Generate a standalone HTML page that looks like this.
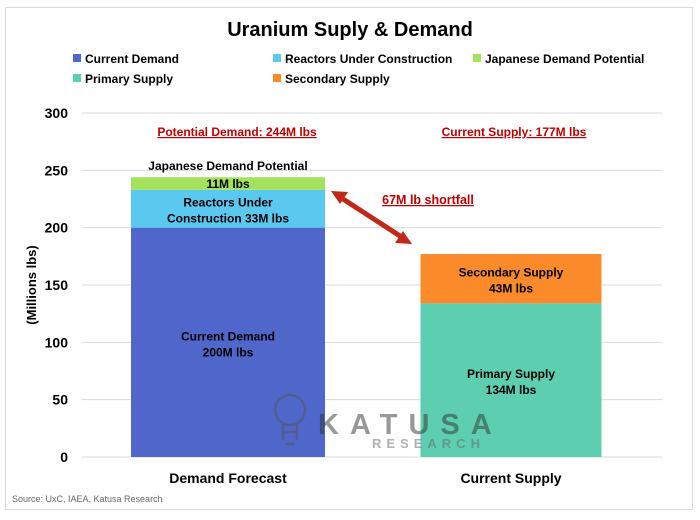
<!DOCTYPE html>
<html><head><meta charset="utf-8"><style>
body{margin:0;background:#fff;font-family:"Liberation Sans",sans-serif}
svg text{font-family:"Liberation Sans",sans-serif}
</style></head><body>
<svg width="700" height="515">
<rect x="5.5" y="7.5" width="687" height="502" fill="#fff" stroke="#d9d9d9"/>
<text x="350" y="36" text-anchor="middle" font-size="20" font-weight="bold">Uranium Suply &amp; Demand</text>
<g id="legend" font-size="12" font-weight="bold"></g>
<g id="grid"></g>
<g id="bars"></g>
<text x="36" y="285" transform="rotate(-90 36 285)" text-anchor="middle" font-size="13" font-weight="bold">(Millions lbs)</text>
<text x="237" y="136" text-anchor="middle" font-size="12" font-weight="bold" fill="#c00000" text-decoration="underline">Potential Demand: 244M lbs</text>
<text x="514" y="136" text-anchor="middle" font-size="12" font-weight="bold" fill="#c00000" text-decoration="underline">Current Supply: 177M lbs</text>
<text x="428" y="204" text-anchor="middle" font-size="12.5" font-weight="bold" fill="#c00000" text-decoration="underline">67M lb shortfall</text>
<g>
<line x1="343" y1="199" x2="400" y2="236" stroke="#c0281a" stroke-width="5"/>
<polygon points="331,191 348,192 340,204" fill="#c0281a"/>
<polygon points="412,244 395,243 403,231" fill="#c0281a"/>
</g>
<g opacity="0.5">
<circle cx="290" cy="410" r="15" fill="none" stroke="#555" stroke-width="2.5"/>
<path d="M283,424 L283,440 M297,424 L297,440 M283,432 H297 M285,444 H295" stroke="#555" stroke-width="2.5" fill="none"/>
<text x="318" y="434" font-size="29" font-weight="bold" fill="#333" letter-spacing="11">KATUSA</text>
<text x="372" y="448" font-size="13" font-weight="bold" fill="#666" letter-spacing="5">RESEARCH</text>
</g>
<text x="12" y="502" font-size="9" fill="#666">Source: UxC, IAEA, Katusa Research</text>
</svg>
<script>
const categories=["Demand Forecast","Current Supply"];
const currentDemand=[200,0];
const reactors=[33,0];
const japanese=[11,0];
const primary=[0,134];
const secondary=[0,43];
const yTicks=[0,50,100,150,200,250,300];
const legendNames=["Current Demand","Reactors Under Construction","Japanese Demand Potential","Primary Supply","Secondary Supply"];
const colors=["#4f67cb","#5bc8f0","#a3e25a","#5dcfb0","#fb8a2a"];
const NS="http://www.w3.org/2000/svg";
const X0=82,X1=662,Y0=457,Y1=113;
const y=v=>Y0-(v/300)*(Y0-Y1);
const centers=[228,511];
const xc=i=>centers[i];
function mk(tag,attrs,parent,text){const e=document.createElementNS(NS,tag);for(const k in attrs)e.setAttribute(k,attrs[k]);if(text!==undefined)e.textContent=text;parent.appendChild(e);return e;}
const grid=document.getElementById('grid');
yTicks.forEach(t=>{
 const l=mk('line',{x1:X0,x2:X1,y1:y(t),y2:y(t),stroke:'#d9d9d9'},grid);
 
 
 const tx=mk('text',{x:68,y:y(t)+5,'text-anchor':'end','font-size':14,'font-weight':'bold'},grid,t);
 
 
});
const lg=document.getElementById('legend');
const lpos=[[73,63],[273,63],[473,63],[73,83],[273,83]];
legendNames.forEach((n,i)=>{
 const r=mk('rect',{x:lpos[i][0],y:lpos[i][1]-9,width:8,height:8,fill:colors[i]},lg);
 
 
 const t=mk('text',{x:lpos[i][0]+12,y:lpos[i][1],textLength:0},lg,n);
 t.removeAttribute('textLength');
 
 
});
const bars=document.getElementById('bars');
const series=[currentDemand,reactors,japanese,primary,secondary];
const labels=[["Current Demand","200M lbs"],["Reactors Under","Construction 33M lbs"],["Japanese Demand Potential","11M lbs"],["Primary Supply","134M lbs"],["Secondary Supply","43M lbs"]];
const bw=[194,181];
categories.forEach((c,i)=>{
 let base=0;
 series.forEach((s,k)=>{
  const v=s[i]; if(!v)return;
  const r=mk('rect',{x:xc(i)-bw[i]/2,y:y(base+v),width:bw[i],height:y(base)-y(base+v),fill:colors[k]},bars);
  
  
  const mid=(y(base)+y(base+v))/2;
  const t=mk('text',{x:xc(i),y:mid-2,'text-anchor':'middle','font-size':12,'font-weight':'bold'},bars,labels[k][0]);
  
  
  const t2=mk('text',{x:xc(i),y:mid+14,'text-anchor':'middle','font-size':12,'font-weight':'bold'},bars,labels[k][1]);
  
  
  if(k===2){t.setAttribute('y',y(base+v)-7);t2.setAttribute('y',y(base)-2);}
  base+=v;
 });
 const ct=mk('text',{x:xc(i),y:483,'text-anchor':'middle','font-size':14,'font-weight':'bold'},bars,c);
 
 
});
</script>
</body></html>
